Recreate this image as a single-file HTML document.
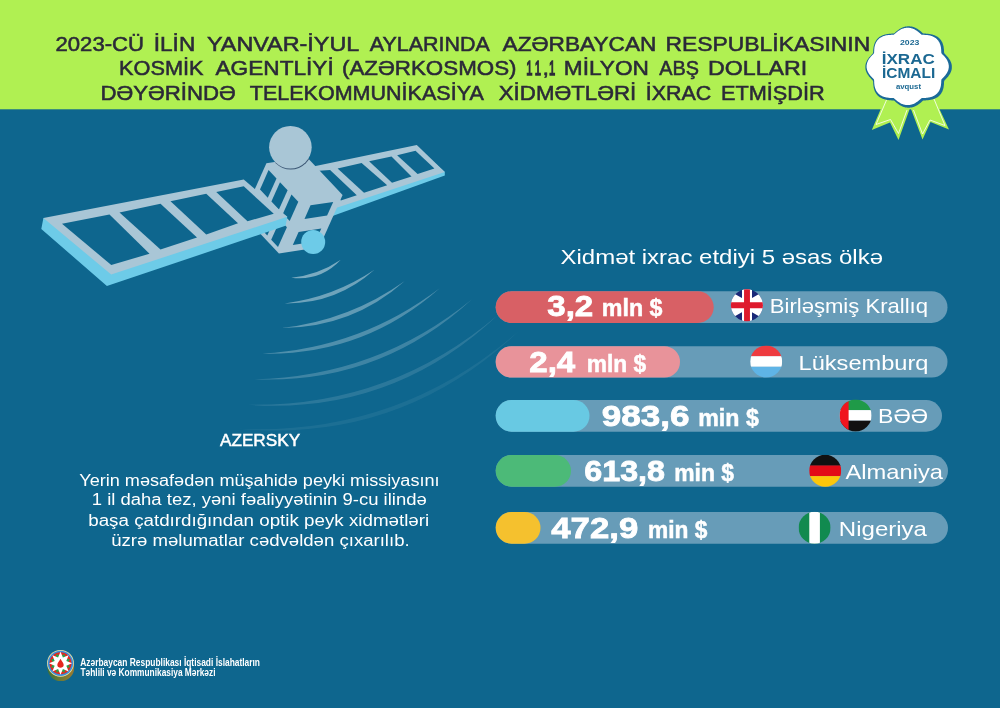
<!DOCTYPE html>
<html lang="az">
<head>
<meta charset="utf-8">
<title>İxrac icmalı – Azərkosmos</title>
<style>
html,body{margin:0;padding:0;background:#0e668e;}
body{width:1000px;height:708px;overflow:hidden;position:relative;font-family:"Liberation Sans",sans-serif;}
svg{position:absolute;left:0;top:0;display:block;}
text{font-family:"Liberation Sans",sans-serif;}
.t{font-weight:400;fill:#2b2a38;stroke:#2b2a38;stroke-width:0.55px;}
.w{fill:#fff;}
.b{font-weight:700;fill:#fff;}
</style>
</head>
<body>
<svg width="1000" height="708" viewBox="0 0 1000 708">
<!-- backgrounds -->
<rect x="0" y="0" width="1000" height="708" fill="#0e668e"/>
<rect x="0" y="0" width="1000" height="109.3" fill="#b0f052"/>

<!-- title -->
<g id="title">
<text class="t" x="55.50" y="50.8" font-size="21" textLength="88.50" lengthAdjust="spacingAndGlyphs">2023-CÜ</text>
<text class="t" x="153.75" y="50.8" font-size="21" textLength="41.50" lengthAdjust="spacingAndGlyphs">İLİN</text>
<text class="t" x="207.00" y="50.8" font-size="21" textLength="152.25" lengthAdjust="spacingAndGlyphs">YANVAR-İYUL</text>
<text class="t" x="369.75" y="50.8" font-size="21" textLength="120.00" lengthAdjust="spacingAndGlyphs">AYLARINDA</text>
<text class="t" x="502.50" y="50.8" font-size="21" textLength="154.00" lengthAdjust="spacingAndGlyphs">AZƏRBAYCAN</text>
<text class="t" x="665.50" y="50.8" font-size="21" textLength="204.75" lengthAdjust="spacingAndGlyphs">RESPUBLİKASININ</text>
<text class="t" x="119.00" y="75" font-size="21" textLength="84.50" lengthAdjust="spacingAndGlyphs">KOSMİK</text>
<text class="t" x="215.50" y="75" font-size="21" textLength="118.25" lengthAdjust="spacingAndGlyphs">AGENTLİYİ</text>
<text class="t" x="342.00" y="75" font-size="21" textLength="174.50" lengthAdjust="spacingAndGlyphs">(AZƏRKOSMOS)</text>
<text class="t" style="stroke-width:1.35px" x="526.25" y="75.01" font-size="20.2" textLength="6.25" lengthAdjust="spacingAndGlyphs">1</text>
<text class="t" style="stroke-width:1.35px" x="534.75" y="75.02" font-size="20.2" textLength="6.25" lengthAdjust="spacingAndGlyphs">1</text>
<text class="t" x="542.50" y="75" font-size="21" textLength="6.50" lengthAdjust="spacingAndGlyphs">,</text>
<text class="t" style="stroke-width:1.35px" x="549.00" y="75" font-size="20.2" textLength="6.25" lengthAdjust="spacingAndGlyphs">1</text>
<text class="t" x="563.75" y="75" font-size="21" textLength="85.25" lengthAdjust="spacingAndGlyphs">MİLYON</text>
<text class="t" x="659.25" y="75" font-size="21" textLength="39.75" lengthAdjust="spacingAndGlyphs">ABŞ</text>
<text class="t" x="708.00" y="75" font-size="21" textLength="99.25" lengthAdjust="spacingAndGlyphs">DOLLARI</text>
<text class="t" x="100.50" y="99.5" font-size="21" textLength="135.25" lengthAdjust="spacingAndGlyphs">DƏYƏRİNDƏ</text>
<text class="t" x="249.75" y="99.5" font-size="21" textLength="234.00" lengthAdjust="spacingAndGlyphs">TELEKOMMUNİKASİYA</text>
<text class="t" x="498.75" y="99.5" font-size="21" textLength="137.50" lengthAdjust="spacingAndGlyphs">XİDMƏTLƏRİ</text>
<text class="t" x="645.75" y="99.5" font-size="21" textLength="65.50" lengthAdjust="spacingAndGlyphs">İXRAC</text>
<text class="t" x="721.00" y="99.5" font-size="21" textLength="103.75" lengthAdjust="spacingAndGlyphs">ETMİŞDİR</text>
</g>

<!-- SATELLITE -->
<defs><clipPath id="bodyclip"><polygon points="266.4,163.2 306.8,157.0 342.6,195.1 319.3,247.2 278.9,253.4 243.1,215.3"/></clipPath></defs>
<g id="sat">
<!-- right panel -->
<polygon points="420,150 444.8,171.9 444.8,175.6 320,220.6 320,180" fill="#6dcbe8"/>
<polygon points="312,166.8 416.8,144.9 444.8,171.9 334.4,208.6 320,208" fill="#a9c6d6"/>
<polygon points="319.2,170.8 330.1,170 356.8,195.3 340.8,200.4" fill="#0e668e"/>
<polygon points="337.6,168.4 361.6,163.1 387.2,185.2 364,192.7" fill="#0e668e"/>
<polygon points="369.1,161.2 391.5,156.4 411.5,176.4 392,182.8" fill="#0e668e"/>
<polygon points="397.1,155.3 415.5,150.8 434.4,168.4 417.6,174" fill="#0e668e"/>
<!-- body -->
<polygon points="266.4,163.2 306.8,157.0 342.6,195.1 319.3,247.2 278.9,253.4 243.1,215.3" fill="#a9c6d6"/>
<polygon points="268.6,170.1 276.5,178.5 267.8,197.8 260.0,189.4" fill="#0e668e"/>
<polygon points="257.2,195.7 265.0,204.0 256.2,223.8 248.3,215.5" fill="#0e668e"/>
<polygon points="280.0,182.3 287.6,190.3 278.9,209.6 271.4,201.6" fill="#0e668e"/>
<polygon points="268.6,207.9 276.1,215.8 267.3,235.6 259.8,227.6" fill="#0e668e"/>
<polygon points="291.5,194.5 298.3,201.8 289.7,221.0 282.9,213.8" fill="#0e668e"/>
<polygon points="280.1,220.0 286.9,227.3 278.0,247.1 271.2,239.8" fill="#0e668e"/>
<polygon points="310.5,205.3 333.2,201.9 327.1,215.4 304.5,218.9" fill="#0e668e"/>
<polygon points="298.6,231.9 321.3,228.4 315.4,241.4 292.8,244.9" fill="#0e668e"/>
<!-- dish -->
<circle cx="290.8" cy="148.3" r="21.3" fill="#3d5876" clip-path="url(#bodyclip)"/>
<circle cx="290.4" cy="147.2" r="21.3" fill="#a9c6d6"/>
<!-- left panel -->
<polygon points="43.4,218.1 41.3,228.9 106.9,286.1 285.6,225.8 287.3,216.8 240,186 60,220" fill="#6dcbe8"/>
<polygon points="43.4,218.1 243.75,179.5 287.3,216.8 111.2,274.5" fill="#a9c6d6"/>
<polygon points="62,223.75 109.5,214.5 149.5,253.75 111.25,265" fill="#0e668e"/>
<polygon points="119.5,212.5 160.5,203.75 197,237.5 160.5,249.5" fill="#0e668e"/>
<polygon points="170.5,201.25 206.25,193.75 238,223.25 206.25,234.5" fill="#0e668e"/>
<polygon points="216.25,192 243.75,186.25 273.75,213.75 247.5,221.25" fill="#0e668e"/>
<!-- antenna -->
<circle cx="313.2" cy="242" r="12" fill="#6dcbe8"/>
<!-- signal -->
<g id="arcs" fill="#fff">
<path d="M291.2,277.8 Q320.6,281.4 340.8,259.8 Q318.3,275.0 291.2,277.8 Z" opacity="0.45"/>
<path d="M284.8,303.4 Q336.2,304.2 374.4,269.8 Q333.5,297.1 284.8,303.4 Z" opacity="0.40"/>
<path d="M281.6,328.0 Q352.1,327.9 404.8,281.0 Q349.3,320.4 281.6,328.0 Z" opacity="0.34"/>
<path d="M262.4,353.6 Q364.1,355.7 440.0,288.0 Q361.2,347.8 262.4,353.6 Z" opacity="0.27"/>
<path d="M254.4,379.2 Q379.8,384.4 472.0,299.2 Q376.9,376.6 254.4,379.2 Z" opacity="0.20"/>
<path d="M248.0,404.8 Q392.5,414.8 497.6,315.2 Q389.6,406.9 248.0,404.8 Z" opacity="0.12"/>
<path d="M238.0,428.8 Q401.6,443.8 520.0,330.0 Q398.8,435.8 238.0,428.8 Z" opacity="0.06"/>
</g>
</g>

<!-- BADGE -->
<g id="badge">
<polygon points="885,99 910,108 898.5,140 890,122.5 871.8,130" fill="#b0f052"/>
<polygon points="934.5,98.5 949,129.5 930.5,122 922.5,139.5 911,109" fill="#b0f052"/>
<polyline points="886.5,100 876,124.5 890.5,119.5 898.5,133.5 907,110" fill="none" stroke="#fff" stroke-width="0.8"/>
<polyline points="934,99 945,125.5 930,120 922.5,134 913.5,110" fill="none" stroke="#fff" stroke-width="0.8"/>
<polygon points="951.9,67.0 951.8,67.5 951.8,68.1 951.8,68.6 951.7,69.1 951.6,69.7 951.5,70.2 951.3,70.7 951.1,71.2 951.0,71.7 950.7,72.2 950.5,72.7 950.3,73.2 950.0,73.7 949.7,74.2 949.4,74.7 949.1,75.1 948.8,75.6 948.5,76.0 948.2,76.5 947.8,76.9 947.4,77.3 947.1,77.7 946.7,78.1 946.3,78.5 946.0,78.9 945.6,79.3 945.2,79.7 944.9,80.1 944.5,80.5 944.2,80.9 944.1,81.4 944.1,81.9 944.0,82.4 944.0,82.9 944.0,83.4 944.0,84.0 943.9,84.5 943.9,85.0 943.8,85.6 943.7,86.1 943.7,86.6 943.6,87.2 943.5,87.7 943.4,88.3 943.2,88.8 943.1,89.3 942.9,89.8 942.7,90.4 942.5,90.9 942.3,91.4 942.1,91.9 941.8,92.3 941.6,92.8 941.3,93.3 941.0,93.7 940.7,94.2 940.3,94.6 940.0,95.0 939.6,95.4 939.2,95.8 938.8,96.2 938.4,96.5 937.9,96.9 937.5,97.2 937.0,97.5 936.5,97.8 936.0,98.1 935.5,98.3 935.0,98.5 934.5,98.8 933.9,99.0 933.4,99.1 932.9,99.3 932.3,99.5 931.7,99.6 931.2,99.7 930.6,99.8 930.0,99.9 929.5,100.0 928.9,100.1 928.3,100.2 927.7,100.2 927.2,100.3 926.6,100.3 926.1,100.3 925.5,100.4 924.9,100.4 924.4,100.4 923.9,100.5 923.3,100.5 922.9,100.8 922.5,101.1 922.1,101.5 921.7,101.8 921.3,102.2 920.9,102.5 920.4,102.9 920.0,103.2 919.6,103.6 919.1,103.9 918.6,104.2 918.2,104.6 917.7,104.9 917.2,105.2 916.7,105.5 916.2,105.7 915.7,106.0 915.2,106.2 914.7,106.5 914.1,106.7 913.6,106.9 913.1,107.1 912.5,107.2 912.0,107.4 911.4,107.5 910.9,107.6 910.3,107.6 909.7,107.7 909.2,107.7 908.6,107.7 908.0,107.7 907.5,107.7 906.9,107.6 906.3,107.6 905.8,107.5 905.2,107.4 904.7,107.2 904.1,107.1 903.6,106.9 903.1,106.7 902.5,106.5 902.0,106.2 901.5,106.0 901.0,105.7 900.5,105.5 900.0,105.2 899.5,104.9 899.0,104.6 898.6,104.2 898.1,103.9 897.6,103.6 897.2,103.2 896.8,102.9 896.3,102.5 895.9,102.2 895.5,101.8 895.1,101.5 894.7,101.1 894.3,100.8 893.9,100.5 893.3,100.5 892.8,100.4 892.3,100.4 891.7,100.4 891.1,100.3 890.6,100.3 890.0,100.3 889.5,100.2 888.9,100.2 888.3,100.1 887.7,100.0 887.2,99.9 886.6,99.8 886.0,99.7 885.5,99.6 884.9,99.5 884.3,99.3 883.8,99.1 883.3,99.0 882.7,98.8 882.2,98.5 881.7,98.3 881.2,98.1 880.7,97.8 880.2,97.5 879.7,97.2 879.3,96.9 878.8,96.5 878.4,96.2 878.0,95.8 877.6,95.4 877.2,95.0 876.9,94.6 876.5,94.2 876.2,93.7 875.9,93.3 875.6,92.8 875.4,92.3 875.1,91.9 874.9,91.4 874.7,90.9 874.5,90.4 874.3,89.8 874.1,89.3 874.0,88.8 873.8,88.3 873.7,87.7 873.6,87.2 873.5,86.6 873.5,86.1 873.4,85.6 873.3,85.0 873.3,84.5 873.2,84.0 873.2,83.4 873.2,82.9 873.2,82.4 873.1,81.9 873.1,81.4 873.0,80.9 872.7,80.5 872.3,80.1 872.0,79.7 871.6,79.3 871.2,78.9 870.9,78.5 870.5,78.1 870.1,77.7 869.8,77.3 869.4,76.9 869.0,76.5 868.7,76.0 868.4,75.6 868.1,75.1 867.8,74.7 867.5,74.2 867.2,73.7 866.9,73.2 866.7,72.7 866.5,72.2 866.2,71.7 866.1,71.2 865.9,70.7 865.7,70.2 865.6,69.7 865.5,69.1 865.4,68.6 865.4,68.1 865.4,67.5 865.3,67.0 865.4,66.5 865.4,65.9 865.4,65.4 865.5,64.9 865.6,64.3 865.7,63.8 865.9,63.3 866.1,62.8 866.2,62.3 866.5,61.8 866.7,61.3 866.9,60.8 867.2,60.3 867.5,59.8 867.8,59.3 868.1,58.9 868.4,58.4 868.7,58.0 869.0,57.5 869.4,57.1 869.8,56.7 870.1,56.3 870.5,55.9 870.9,55.5 871.2,55.1 871.6,54.7 872.0,54.3 872.3,53.9 872.7,53.5 873.0,53.1 873.1,52.6 873.1,52.1 873.2,51.6 873.2,51.1 873.2,50.6 873.2,50.0 873.3,49.5 873.3,49.0 873.4,48.4 873.5,47.9 873.5,47.4 873.6,46.8 873.7,46.3 873.8,45.7 874.0,45.2 874.1,44.7 874.3,44.2 874.5,43.6 874.7,43.1 874.9,42.6 875.1,42.1 875.4,41.7 875.6,41.2 875.9,40.7 876.2,40.3 876.5,39.8 876.9,39.4 877.2,39.0 877.6,38.6 878.0,38.2 878.4,37.8 878.8,37.5 879.3,37.1 879.7,36.8 880.2,36.5 880.7,36.2 881.2,35.9 881.7,35.7 882.2,35.5 882.7,35.2 883.3,35.0 883.8,34.9 884.3,34.7 884.9,34.5 885.5,34.4 886.0,34.3 886.6,34.2 887.2,34.1 887.7,34.0 888.3,33.9 888.9,33.8 889.5,33.8 890.0,33.7 890.6,33.7 891.1,33.7 891.7,33.6 892.3,33.6 892.8,33.6 893.3,33.5 893.9,33.5 894.3,33.2 894.7,32.9 895.1,32.5 895.5,32.2 895.9,31.8 896.3,31.5 896.8,31.1 897.2,30.8 897.6,30.4 898.1,30.1 898.6,29.8 899.0,29.4 899.5,29.1 900.0,28.8 900.5,28.5 901.0,28.3 901.5,28.0 902.0,27.8 902.5,27.5 903.1,27.3 903.6,27.1 904.1,26.9 904.7,26.8 905.2,26.6 905.8,26.5 906.3,26.4 906.9,26.4 907.5,26.3 908.0,26.3 908.6,26.3 909.2,26.3 909.7,26.3 910.3,26.4 910.9,26.4 911.4,26.5 912.0,26.6 912.5,26.8 913.1,26.9 913.6,27.1 914.1,27.3 914.7,27.5 915.2,27.8 915.7,28.0 916.2,28.3 916.7,28.5 917.2,28.8 917.7,29.1 918.2,29.4 918.6,29.8 919.1,30.1 919.6,30.4 920.0,30.8 920.4,31.1 920.9,31.5 921.3,31.8 921.7,32.2 922.1,32.5 922.5,32.9 922.9,33.2 923.3,33.5 923.9,33.5 924.4,33.6 924.9,33.6 925.5,33.6 926.1,33.7 926.6,33.7 927.2,33.7 927.7,33.8 928.3,33.8 928.9,33.9 929.5,34.0 930.0,34.1 930.6,34.2 931.2,34.3 931.7,34.4 932.3,34.5 932.9,34.7 933.4,34.9 933.9,35.0 934.5,35.2 935.0,35.5 935.5,35.7 936.0,35.9 936.5,36.2 937.0,36.5 937.5,36.8 937.9,37.1 938.4,37.5 938.8,37.8 939.2,38.2 939.6,38.6 940.0,39.0 940.3,39.4 940.7,39.8 941.0,40.3 941.3,40.7 941.6,41.2 941.8,41.7 942.1,42.1 942.3,42.6 942.5,43.1 942.7,43.6 942.9,44.2 943.1,44.7 943.2,45.2 943.4,45.7 943.5,46.3 943.6,46.8 943.7,47.4 943.7,47.9 943.8,48.4 943.9,49.0 943.9,49.5 944.0,50.0 944.0,50.6 944.0,51.1 944.0,51.6 944.1,52.1 944.1,52.6 944.2,53.1 944.5,53.5 944.9,53.9 945.2,54.3 945.6,54.7 946.0,55.1 946.3,55.5 946.7,55.9 947.1,56.3 947.4,56.7 947.8,57.1 948.2,57.5 948.5,58.0 948.8,58.4 949.1,58.9 949.4,59.3 949.7,59.8 950.0,60.3 950.3,60.8 950.5,61.3 950.7,61.8 951.0,62.3 951.1,62.8 951.3,63.3 951.5,63.8 951.6,64.3 951.7,64.9 951.8,65.4 951.8,65.9 951.8,66.5" fill="#1b6a98"/>
<polygon points="948.8,66.4 948.8,66.9 948.8,67.4 948.7,67.9 948.6,68.4 948.5,68.9 948.4,69.4 948.3,69.9 948.1,70.4 947.9,70.9 947.7,71.4 947.5,71.8 947.3,72.3 947.0,72.8 946.7,73.2 946.5,73.7 946.2,74.1 945.9,74.5 945.5,75.0 945.2,75.4 944.9,75.8 944.5,76.2 944.2,76.6 943.8,77.0 943.5,77.3 943.1,77.7 942.7,78.1 942.4,78.4 942.0,78.8 941.7,79.2 941.4,79.5 941.3,80.0 941.3,80.5 941.3,81.0 941.2,81.5 941.2,82.0 941.2,82.5 941.2,83.0 941.1,83.5 941.1,84.0 941.0,84.5 941.0,85.0 940.9,85.5 940.8,86.1 940.7,86.6 940.6,87.1 940.4,87.6 940.3,88.1 940.1,88.6 939.9,89.1 939.7,89.5 939.5,90.0 939.3,90.5 939.0,90.9 938.7,91.4 938.5,91.8 938.2,92.2 937.8,92.6 937.5,93.0 937.1,93.4 936.8,93.8 936.4,94.1 936.0,94.5 935.6,94.8 935.1,95.1 934.7,95.4 934.2,95.6 933.7,95.9 933.3,96.1 932.8,96.4 932.3,96.6 931.8,96.7 931.2,96.9 930.7,97.1 930.2,97.2 929.7,97.3 929.1,97.5 928.6,97.6 928.0,97.6 927.5,97.7 926.9,97.8 926.4,97.8 925.8,97.9 925.3,97.9 924.8,97.9 924.2,98.0 923.7,98.0 923.2,98.0 922.7,98.0 922.1,98.1 921.7,98.1 921.3,98.4 920.9,98.7 920.5,99.1 920.1,99.4 919.7,99.7 919.3,100.1 918.9,100.4 918.5,100.7 918.1,101.1 917.7,101.4 917.2,101.7 916.8,102.0 916.3,102.3 915.9,102.6 915.4,102.9 914.9,103.2 914.5,103.4 914.0,103.7 913.5,103.9 913.0,104.1 912.5,104.3 911.9,104.4 911.4,104.6 910.9,104.7 910.4,104.8 909.8,104.9 909.3,105.0 908.8,105.1 908.2,105.1 907.7,105.1 907.2,105.1 906.6,105.1 906.1,105.0 905.6,104.9 905.0,104.8 904.5,104.7 904.0,104.6 903.5,104.4 902.9,104.3 902.4,104.1 901.9,103.9 901.4,103.7 900.9,103.4 900.5,103.2 900.0,102.9 899.5,102.6 899.1,102.3 898.6,102.0 898.2,101.7 897.7,101.4 897.3,101.1 896.9,100.7 896.5,100.4 896.1,100.1 895.7,99.7 895.3,99.4 894.9,99.1 894.5,98.7 894.1,98.4 893.7,98.1 893.3,98.1 892.7,98.0 892.2,98.0 891.7,98.0 891.2,98.0 890.6,97.9 890.1,97.9 889.6,97.9 889.0,97.8 888.5,97.8 887.9,97.7 887.4,97.6 886.8,97.6 886.3,97.5 885.7,97.3 885.2,97.2 884.7,97.1 884.2,96.9 883.6,96.7 883.1,96.6 882.6,96.4 882.1,96.1 881.7,95.9 881.2,95.6 880.7,95.4 880.3,95.1 879.8,94.8 879.4,94.5 879.0,94.1 878.6,93.8 878.3,93.4 877.9,93.0 877.6,92.6 877.2,92.2 876.9,91.8 876.7,91.4 876.4,90.9 876.1,90.5 875.9,90.0 875.7,89.5 875.5,89.1 875.3,88.6 875.1,88.1 875.0,87.6 874.8,87.1 874.7,86.6 874.6,86.1 874.5,85.5 874.4,85.0 874.4,84.5 874.3,84.0 874.3,83.5 874.2,83.0 874.2,82.5 874.2,82.0 874.2,81.5 874.1,81.0 874.1,80.5 874.1,80.0 874.0,79.5 873.7,79.2 873.4,78.8 873.0,78.4 872.7,78.1 872.3,77.7 871.9,77.3 871.6,77.0 871.2,76.6 870.9,76.2 870.5,75.8 870.2,75.4 869.9,75.0 869.5,74.5 869.2,74.1 868.9,73.7 868.7,73.2 868.4,72.8 868.1,72.3 867.9,71.8 867.7,71.4 867.5,70.9 867.3,70.4 867.1,69.9 867.0,69.4 866.9,68.9 866.8,68.4 866.7,67.9 866.6,67.4 866.6,66.9 866.6,66.4 866.6,65.9 866.6,65.4 866.7,64.9 866.8,64.4 866.9,63.9 867.0,63.4 867.1,62.9 867.3,62.4 867.5,61.9 867.7,61.4 867.9,61.0 868.1,60.5 868.4,60.0 868.7,59.6 868.9,59.1 869.2,58.7 869.5,58.3 869.9,57.8 870.2,57.4 870.5,57.0 870.9,56.6 871.2,56.2 871.6,55.8 871.9,55.5 872.3,55.1 872.7,54.7 873.0,54.4 873.4,54.0 873.7,53.6 874.0,53.3 874.1,52.8 874.1,52.3 874.1,51.8 874.2,51.3 874.2,50.8 874.2,50.3 874.2,49.8 874.3,49.3 874.3,48.8 874.4,48.3 874.4,47.8 874.5,47.3 874.6,46.7 874.7,46.2 874.8,45.7 875.0,45.2 875.1,44.7 875.3,44.2 875.5,43.7 875.7,43.3 875.9,42.8 876.1,42.3 876.4,41.9 876.7,41.4 876.9,41.0 877.2,40.6 877.6,40.2 877.9,39.8 878.3,39.4 878.6,39.0 879.0,38.7 879.4,38.3 879.8,38.0 880.3,37.7 880.7,37.4 881.2,37.2 881.7,36.9 882.1,36.7 882.6,36.4 883.1,36.2 883.6,36.1 884.2,35.9 884.7,35.7 885.2,35.6 885.7,35.5 886.3,35.3 886.8,35.2 887.4,35.2 887.9,35.1 888.5,35.0 889.0,35.0 889.6,34.9 890.1,34.9 890.6,34.9 891.2,34.8 891.7,34.8 892.2,34.8 892.7,34.8 893.3,34.7 893.7,34.7 894.1,34.4 894.5,34.1 894.9,33.7 895.3,33.4 895.7,33.1 896.1,32.7 896.5,32.4 896.9,32.1 897.3,31.7 897.7,31.4 898.2,31.1 898.6,30.8 899.1,30.5 899.5,30.2 900.0,29.9 900.5,29.6 900.9,29.4 901.4,29.1 901.9,28.9 902.4,28.7 902.9,28.5 903.5,28.4 904.0,28.2 904.5,28.1 905.0,28.0 905.6,27.9 906.1,27.8 906.6,27.7 907.2,27.7 907.7,27.7 908.2,27.7 908.8,27.7 909.3,27.8 909.8,27.9 910.4,28.0 910.9,28.1 911.4,28.2 911.9,28.4 912.5,28.5 913.0,28.7 913.5,28.9 914.0,29.1 914.5,29.4 914.9,29.6 915.4,29.9 915.9,30.2 916.3,30.5 916.8,30.8 917.2,31.1 917.7,31.4 918.1,31.7 918.5,32.1 918.9,32.4 919.3,32.7 919.7,33.1 920.1,33.4 920.5,33.7 920.9,34.1 921.3,34.4 921.7,34.7 922.1,34.7 922.7,34.8 923.2,34.8 923.7,34.8 924.2,34.8 924.8,34.9 925.3,34.9 925.8,34.9 926.4,35.0 926.9,35.0 927.5,35.1 928.0,35.2 928.6,35.2 929.1,35.3 929.7,35.5 930.2,35.6 930.7,35.7 931.2,35.9 931.8,36.1 932.3,36.2 932.8,36.4 933.3,36.7 933.7,36.9 934.2,37.2 934.7,37.4 935.1,37.7 935.6,38.0 936.0,38.3 936.4,38.7 936.8,39.0 937.1,39.4 937.5,39.8 937.8,40.2 938.2,40.6 938.5,41.0 938.7,41.4 939.0,41.9 939.3,42.3 939.5,42.8 939.7,43.3 939.9,43.7 940.1,44.2 940.3,44.7 940.4,45.2 940.6,45.7 940.7,46.2 940.8,46.7 940.9,47.3 941.0,47.8 941.0,48.3 941.1,48.8 941.1,49.3 941.2,49.8 941.2,50.3 941.2,50.8 941.2,51.3 941.3,51.8 941.3,52.3 941.3,52.8 941.4,53.3 941.7,53.6 942.0,54.0 942.4,54.4 942.7,54.7 943.1,55.1 943.5,55.5 943.8,55.8 944.2,56.2 944.5,56.6 944.9,57.0 945.2,57.4 945.5,57.8 945.9,58.3 946.2,58.7 946.5,59.1 946.7,59.6 947.0,60.0 947.3,60.5 947.5,61.0 947.7,61.4 947.9,61.9 948.1,62.4 948.3,62.9 948.4,63.4 948.5,63.9 948.6,64.4 948.7,64.9 948.8,65.4 948.8,65.9" fill="#fff"/>
<text x="900.00" y="45.2" font-size="7" font-weight="700" fill="#1b6892" textLength="19.35" lengthAdjust="spacingAndGlyphs">2023</text>
<text x="881.75" y="63.5" font-size="14.3" font-weight="700" fill="#1b6892" textLength="53.00" lengthAdjust="spacingAndGlyphs">İXRAC</text>
<text x="882.00" y="77.7" font-size="14.3" font-weight="700" fill="#1b6892" textLength="53.25" lengthAdjust="spacingAndGlyphs">İCMALI</text>
<text x="896.00" y="89.3" font-size="7.4" font-weight="700" fill="#1b6892" textLength="25.00" lengthAdjust="spacingAndGlyphs">avqust</text>
</g>

<!-- BARS -->
<g id="bars">
<text class="w" x="560.50" y="264" font-size="20.6" textLength="322.50" lengthAdjust="spacingAndGlyphs">Xidmət ixrac etdiyi 5 əsas ölkə</text>
<!-- tracks -->
<rect x="495.7" y="291.3" width="451.8" height="31.7" rx="15.85" fill="#679cb8"/>
<rect x="495.7" y="346.2" width="451.8" height="31.4" rx="15.7" fill="#679cb8"/>
<rect x="495.7" y="400" width="446.3" height="31.7" rx="15.85" fill="#679cb8"/>
<rect x="495.7" y="455" width="452.3" height="31.7" rx="15.85" fill="#679cb8"/>
<rect x="495.7" y="512" width="452.3" height="31.7" rx="15.85" fill="#679cb8"/>
<!-- fills -->
<rect x="495.7" y="291.3" width="218.0" height="31.7" rx="15.85" fill="#d86065"/>
<rect x="495.7" y="346.2" width="184.3" height="31.4" rx="15.7" fill="#e8939a"/>
<rect x="495.7" y="400" width="93.8" height="31.7" rx="15.85" fill="#68c9e3"/>
<rect x="495.7" y="455" width="75.3" height="31.7" rx="15.85" fill="#4cba78"/>
<rect x="495.7" y="512" width="44.8" height="31.7" rx="15.85" fill="#f5c12e"/>
<!-- values -->
<text class="b" stroke="#fff" stroke-width="0.8" x="547.25" y="316.3" font-size="29.8" textLength="46.00" lengthAdjust="spacingAndGlyphs">3,2</text>
<text class="b" stroke="#fff" stroke-width="0.5" x="601.75" y="316.3" font-size="23.4" textLength="60.75" lengthAdjust="spacingAndGlyphs">mln $</text>
<text class="b" stroke="#fff" stroke-width="0.8" x="529.25" y="371.5" font-size="29.8" textLength="46.00" lengthAdjust="spacingAndGlyphs">2,4</text>
<text class="b" stroke="#fff" stroke-width="0.5" x="586.75" y="371.5" font-size="23.4" textLength="59.50" lengthAdjust="spacingAndGlyphs">mln $</text>
<text class="b" stroke="#fff" stroke-width="0.8" x="601.75" y="425.5" font-size="29.8" textLength="87.80" lengthAdjust="spacingAndGlyphs">983,6</text>
<text class="b" stroke="#fff" stroke-width="0.5" x="698.25" y="425.5" font-size="23.4" textLength="60.55" lengthAdjust="spacingAndGlyphs">min $</text>
<text class="b" stroke="#fff" stroke-width="0.8" x="584.25" y="480.5" font-size="29.8" textLength="80.75" lengthAdjust="spacingAndGlyphs">613,8</text>
<text class="b" stroke="#fff" stroke-width="0.5" x="674.25" y="480.5" font-size="23.4" textLength="59.75" lengthAdjust="spacingAndGlyphs">min $</text>
<text class="b" stroke="#fff" stroke-width="0.8" x="551.30" y="537.5" font-size="29.8" textLength="86.95" lengthAdjust="spacingAndGlyphs">472,9</text>
<text class="b" stroke="#fff" stroke-width="0.5" x="648.05" y="537.5" font-size="23.4" textLength="59.45" lengthAdjust="spacingAndGlyphs">min $</text>
<!-- country names -->
<text class="w" x="769.75" y="313.3" font-size="21" textLength="158.25" lengthAdjust="spacingAndGlyphs">Birləşmiş Krallıq</text>
<text class="w" x="798.50" y="369.5" font-size="21" textLength="130.00" lengthAdjust="spacingAndGlyphs">Lüksemburq</text>
<text class="w" x="878.05" y="423" font-size="21" textLength="49.95" lengthAdjust="spacingAndGlyphs">BƏƏ</text>
<text class="w" x="845.50" y="478.8" font-size="21" textLength="97.50" lengthAdjust="spacingAndGlyphs">Almaniya</text>
<text class="w" x="838.80" y="535.8" font-size="21" textLength="88.20" lengthAdjust="spacingAndGlyphs">Nigeriya</text>
<!-- flags -->
<g id="flags"><defs><clipPath id="cuk"><circle cx="746.9" cy="305.2" r="16"/></clipPath><clipPath id="clu"><circle cx="766.2" cy="361.5" r="16"/></clipPath><clipPath id="cae"><circle cx="855.6" cy="415.4" r="16"/></clipPath><clipPath id="cde"><circle cx="825.2" cy="470.8" r="16"/></clipPath><clipPath id="cng"><circle cx="814.6" cy="527.8" r="16"/></clipPath></defs>
<g clip-path="url(#cuk)"><rect x="729.9" y="288.2" width="34" height="34" fill="#1a2878"/><path d="M724.9,292.7 L768.9,317.7 M768.9,292.7 L724.9,317.7" stroke="#fff" stroke-width="7.4"/><path d="M747.0,288.2 V322.2 M729.9,305.2 H763.9" stroke="#fff" stroke-width="10"/><path d="M747.0,288.2 V322.2 M729.9,305.2 H763.9" stroke="#de1a2d" stroke-width="5.9"/></g>
<g clip-path="url(#clu)"><rect x="750.2" y="345.5" width="32" height="11" fill="#ee3b3f"/><rect x="750.2" y="356.2" width="32" height="10.6" fill="#fff"/><rect x="750.2" y="366.8" width="32" height="11" fill="#5fb4e6"/></g>
<g clip-path="url(#cae)"><rect x="839.6" y="399.4" width="32" height="11" fill="#1f9a48"/><rect x="839.6" y="410.1" width="32" height="10.6" fill="#fff"/><rect x="839.6" y="420.7" width="32" height="11" fill="#111"/><rect x="839.6" y="399.4" width="9" height="32" fill="#f0141e"/></g>
<g clip-path="url(#cde)"><rect x="809.2" y="454.8" width="32" height="11" fill="#111"/><rect x="809.2" y="465.5" width="32" height="10.6" fill="#e30b17"/><rect x="809.2" y="476.1" width="32" height="11" fill="#fdc70b"/></g>
<g clip-path="url(#cng)"><rect x="798.6" y="511.8" width="32" height="32" fill="#118a4f"/><rect x="809.3" y="511.8" width="10.6" height="32" fill="#fff"/></g>
</g>
</g>

<!-- LEFT TEXT -->
<g id="lefttext">
<text x="220.00" y="445.6" font-size="16" font-weight="400" fill="#fff" stroke="#fff" stroke-width="0.45" textLength="80.10" lengthAdjust="spacingAndGlyphs">AZERSKY</text>
<text class="w" x="79.25" y="485.6" font-size="16" textLength="360.35" lengthAdjust="spacingAndGlyphs">Yerin məsafədən müşahidə peyki missiyasını</text>
<text class="w" x="91.75" y="505.3" font-size="16" textLength="335.00" lengthAdjust="spacingAndGlyphs">1 il daha tez, yəni fəaliyyətinin 9-cu ilində</text>
<text class="w" x="88.25" y="525.6" font-size="16" textLength="340.90" lengthAdjust="spacingAndGlyphs">başa çatdırdığından optik peyk xidmətləri</text>
<text class="w" x="111.25" y="545.6" font-size="16" textLength="298.40" lengthAdjust="spacingAndGlyphs">üzrə məlumatlar cədvəldən çıxarılıb.</text>
</g>

<!-- FOOTER -->
<g id="footer">
<text x="80.25" y="665.8" font-size="10" font-weight="700" fill="#fff" textLength="179.75" lengthAdjust="spacingAndGlyphs">Azərbaycan Respublikası İqtisadi İslahatların</text>
<text x="80.50" y="675.8" font-size="10" font-weight="700" fill="#fff" textLength="135.00" lengthAdjust="spacingAndGlyphs">Təhlili və Kommunikasiya Mərkəzi</text>
<g id="logo">
<defs><linearGradient id="wr" x1="0" x2="1" y1="0" y2="0"><stop offset="0" stop-color="#3a6f3a"/><stop offset="0.45" stop-color="#6a7a35"/><stop offset="1" stop-color="#9a7a30"/></linearGradient></defs>
<ellipse cx="60.8" cy="667.9" rx="13.3" ry="13.2" fill="url(#wr)"/>
<circle cx="60.5" cy="663.3" r="13.4" fill="#e9dfa6"/>
<circle cx="60.5" cy="663.3" r="12.6" fill="#3a8fdc"/>
<circle cx="60.5" cy="663.3" r="11" fill="#e3281e"/>
<polygon points="64.40,653.88 65.45,658.35 69.92,659.40 67.50,663.30 69.92,667.20 65.45,668.25 64.40,672.72 60.50,670.30 56.60,672.72 55.55,668.25 51.08,667.20 53.50,663.30 51.08,659.40 55.55,658.35 56.60,653.88 60.50,656.30" fill="#2aa04a"/>
<polygon points="60.50,651.80 62.91,657.48 68.63,655.17 66.32,660.89 72.00,663.30 66.32,665.71 68.63,671.43 62.91,669.12 60.50,674.80 58.09,669.12 52.37,671.43 54.68,665.71 49.00,663.30 54.68,660.89 52.37,655.17 58.09,657.48" fill="#fff"/>
<path d="M60.5,658.7 C61.7,661.1 63.7,663.1 63.7,664.9 C63.7,668.6 57.3,668.6 57.3,664.9 C57.3,663.1 59.3,661.1 60.5,658.7 Z" fill="#e3281e"/>
</g>
</g>
</svg>
</body>
</html>
